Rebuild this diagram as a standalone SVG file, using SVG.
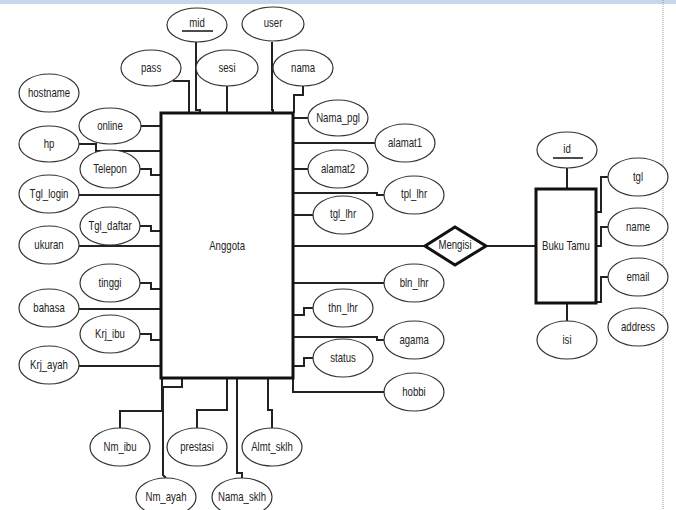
<svg xmlns="http://www.w3.org/2000/svg" width="676" height="510" viewBox="0 0 676 510">
<style>
.bg{fill:#ffffff}
.att ellipse{fill:#ffffff;stroke:#333;stroke-width:1.2}
text{font-family:"Liberation Sans",Arial,sans-serif;font-size:12px;fill:#222;text-anchor:middle;dominant-baseline:central;transform:scaleX(0.8);transform-box:fill-box;transform-origin:center}
.ent rect{fill:#ffffff;stroke:#111;stroke-width:3}
.rel polygon{fill:#ffffff;stroke:#111;stroke-width:3}
#connectors path,#connectors line{fill:none;stroke:#222;stroke-width:2}
.key{stroke:#111;stroke-width:1.5}
</style>
<rect class="bg" x="0" y="0" width="676" height="510"/>
<rect x="0" y="0" width="676" height="4" fill="#c8d8ec"/>
<line x1="663" y1="0" x2="663" y2="510" stroke="#999" stroke-width="1" stroke-dasharray="1,1"/>

<g id="connectors">
<path d="M173,81 H189 V113"/>
<path d="M196,42 V110 H200 V113"/>
<path d="M227,86 V113"/>
<path d="M272,42 V110 H273 V113"/>
<path d="M303,86 V95 H294 V113"/>
<path d="M141,126 H161"/>
<path d="M79,144 H96 V151 H161"/>
<path d="M140,169 H151 V175 H161"/>
<path d="M79,195 H161"/>
<path d="M140,226 H151 V231 H161"/>
<path d="M79,246 H161"/>
<path d="M140,283 H151 V289 H161"/>
<path d="M79,309 H161"/>
<path d="M140,334 H151 V340 H161"/>
<path d="M79,366 H161"/>
<path d="M293,118 H308"/>
<path d="M293,143 H375"/>
<path d="M293,169 H308"/>
<path d="M293,193 H377 V195 H384"/>
<path d="M293,215 H313"/>
<path d="M293,283 H384"/>
<path d="M313,308 H304 V315 H293"/>
<path d="M293,337 H377 V340 H384"/>
<path d="M313,358 H304 V366 H293"/>
<path d="M293,378 V392 H384"/>
<path d="M120,428 V411 H162 V378"/>
<path d="M182,378 V387 H163 V475 L166,478"/>
<path d="M197,428 V410 H227 V378"/>
<path d="M237,378 V473 H242 V478"/>
<path d="M272,428 V410 H268 V378"/>
<path d="M293,246 H425"/>
<path d="M486,246 H536"/>
<path d="M567,168 V189"/>
<path d="M567,322 V303"/>
<path d="M608,177 H601 V212 H596"/>
<path d="M608,227 H601 V246 H596"/>
<path d="M608,277 H601 V302 H596"/>
</g>

<g id="anggota" class="ent"><rect x="161" y="113" width="132" height="265"/><text x="227" y="246">Anggota</text></g>
<g id="bukutamu" class="ent"><rect x="536" y="189" width="60" height="114"/><text x="566" y="246">Buku Tamu</text></g>
<g id="mengisi" class="rel"><polygon points="425,246 455,227 486,246 455,265"/><text x="455" y="245">Mengisi</text></g>

<g id="attr-mid" class="att"><ellipse cx="197" cy="25" rx="30" ry="17"/><text x="197" y="23">mid</text><line class="key" x1="182" y1="31" x2="213" y2="31"/></g>
<g id="attr-user" class="att"><ellipse cx="273" cy="24" rx="31" ry="17"/><text x="273" y="23">user</text></g>
<g id="attr-pass" class="att"><ellipse cx="151" cy="68" rx="30" ry="18"/><text x="151" y="68">pass</text></g>
<g id="attr-sesi" class="att"><ellipse cx="227" cy="68" rx="31" ry="18"/><text x="227" y="68">sesi</text></g>
<g id="attr-nama" class="att"><ellipse cx="303" cy="68" rx="30" ry="18"/><text x="303" y="68">nama</text></g>
<g id="attr-hostname" class="att"><ellipse cx="49" cy="93" rx="30" ry="19"/><text x="49" y="93">hostname</text></g>
<g id="attr-online" class="att"><ellipse cx="110" cy="126" rx="31" ry="18"/><text x="110" y="126">online</text></g>
<g id="attr-hp" class="att"><ellipse cx="49" cy="144" rx="30" ry="18"/><text x="49" y="144">hp</text></g>
<g id="attr-telepon" class="att"><ellipse cx="110" cy="169" rx="30" ry="19"/><text x="110" y="169">Telepon</text></g>
<g id="attr-tgl_login" class="att"><ellipse cx="49" cy="194" rx="30" ry="19"/><text x="49" y="194">Tgl_login</text></g>
<g id="attr-tgl_daftar" class="att"><ellipse cx="110" cy="226" rx="30" ry="19"/><text x="110" y="226">Tgl_daftar</text></g>
<g id="attr-ukuran" class="att"><ellipse cx="49" cy="245" rx="30" ry="19"/><text x="49" y="245">ukuran</text></g>
<g id="attr-tinggi" class="att"><ellipse cx="110" cy="283" rx="30" ry="19"/><text x="110" y="283">tinggi</text></g>
<g id="attr-bahasa" class="att"><ellipse cx="49" cy="308" rx="30" ry="19"/><text x="49" y="308">bahasa</text></g>
<g id="attr-krj_ibu" class="att"><ellipse cx="110" cy="334" rx="30" ry="19"/><text x="110" y="334">Krj_ibu</text></g>
<g id="attr-krj_ayah" class="att"><ellipse cx="49" cy="365" rx="30" ry="19"/><text x="49" y="365">Krj_ayah</text></g>
<g id="attr-nama_pgl" class="att"><ellipse cx="338" cy="118" rx="30" ry="18"/><text x="338" y="118">Nama_pgl</text></g>
<g id="attr-alamat1" class="att"><ellipse cx="405" cy="143" rx="30" ry="19"/><text x="405" y="143">alamat1</text></g>
<g id="attr-alamat2" class="att"><ellipse cx="338" cy="169" rx="30" ry="19"/><text x="338" y="169">alamat2</text></g>
<g id="attr-tpl_lhr" class="att"><ellipse cx="414" cy="195" rx="30" ry="19"/><text x="414" y="194">tpl_lhr</text></g>
<g id="attr-tgl_lhr" class="att"><ellipse cx="343" cy="215" rx="30" ry="19"/><text x="343" y="214">tgl_lhr</text></g>
<g id="attr-bln_lhr" class="att"><ellipse cx="414" cy="283" rx="30" ry="19"/><text x="414" y="283">bln_lhr</text></g>
<g id="attr-thn_lhr" class="att"><ellipse cx="343" cy="308" rx="30" ry="19"/><text x="343" y="308">thn_lhr</text></g>
<g id="attr-agama" class="att"><ellipse cx="414" cy="340" rx="30" ry="19"/><text x="414" y="340">agama</text></g>
<g id="attr-status" class="att"><ellipse cx="343" cy="358" rx="30" ry="19"/><text x="343" y="358">status</text></g>
<g id="attr-hobbi" class="att"><ellipse cx="414" cy="392" rx="30" ry="19"/><text x="414" y="392">hobbi</text></g>
<g id="attr-nm_ibu" class="att"><ellipse cx="120" cy="447" rx="30" ry="19"/><text x="120" y="447">Nm_ibu</text></g>
<g id="attr-prestasi" class="att"><ellipse cx="197" cy="447" rx="30" ry="19"/><text x="197" y="447">prestasi</text></g>
<g id="attr-almt_sklh" class="att"><ellipse cx="272" cy="447" rx="30" ry="19"/><text x="272" y="447">Almt_sklh</text></g>
<g id="attr-nm_ayah" class="att"><ellipse cx="166" cy="497" rx="30" ry="19"/><text x="166" y="497">Nm_ayah</text></g>
<g id="attr-nama_sklh" class="att"><ellipse cx="242" cy="497" rx="30" ry="19"/><text x="242" y="497">Nama_sklh</text></g>
<g id="attr-id" class="att"><ellipse cx="567" cy="150" rx="30" ry="18"/><text x="567" y="149">id</text><line class="key" x1="553" y1="158" x2="583" y2="158"/></g>
<g id="attr-tgl" class="att"><ellipse cx="638" cy="177" rx="30" ry="19"/><text x="638" y="177">tgl</text></g>
<g id="attr-name" class="att"><ellipse cx="638" cy="227" rx="30" ry="19"/><text x="638" y="227">name</text></g>
<g id="attr-email" class="att"><ellipse cx="638" cy="277" rx="30" ry="19"/><text x="638" y="277">email</text></g>
<g id="attr-address" class="att"><ellipse cx="638" cy="327" rx="30" ry="19"/><text x="638" y="327">address</text></g>
<g id="attr-isi" class="att"><ellipse cx="567" cy="340" rx="30" ry="19"/><text x="567" y="340">isi</text></g>
</svg>
